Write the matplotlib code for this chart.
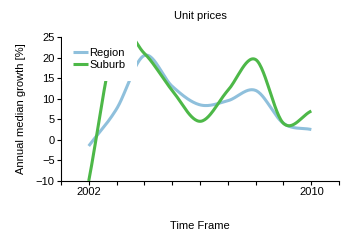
import numpy as np
import matplotlib
matplotlib.use("Agg")
import matplotlib.pyplot as plt

plt.rcParams['font.family'] = ['Liberation Sans', 'DejaVu Sans']

years = [2002, 2003, 2004, 2005, 2006, 2007, 2008, 2009, 2010]
region = [-1.5, 7.5, 20.5, 13.0, 8.5, 9.5, 12.0, 4.0, 2.5]
suburb = [-10.0, 25.0, 21.0, 12.0, 4.5, 12.0, 19.5, 4.0, 7.0]
tick_years = [2002, 2010]


def smooth(xs, ys, n=30, tension=0.5):
    # cardinal spline through the points, like the chart control does
    p = np.column_stack([xs, ys]).astype(float)
    m = np.zeros_like(p)
    m[1:-1] = tension * (p[2:] - p[:-2])
    m[0] = tension * 2 * (p[1] - p[0])
    m[-1] = tension * 2 * (p[-1] - p[-2])
    out = []
    t = np.linspace(0, 1, n)[:, None]
    h00 = 2 * t**3 - 3 * t**2 + 1
    h10 = t**3 - 2 * t**2 + t
    h01 = -2 * t**3 + 3 * t**2
    h11 = t**3 - t**2
    for i in range(len(p) - 1):
        seg = h00 * p[i] + h10 * m[i] + h01 * p[i + 1] + h11 * m[i + 1]
        out.append(seg if i == 0 else seg[1:])
    out = np.vstack(out)
    return out[:, 0], out[:, 1]


fig = plt.figure(figsize=(3.5, 2.4), dpi=100)
ax = fig.add_axes([0.174, 0.246, 0.795, 0.6])

rx, ry = smooth(years, region)
sx, sy = smooth(years, suburb)
ax.plot(rx, ry, color='#8fc0dc', lw=2.2, label='Region', solid_capstyle='butt')
ax.plot(sx, sy, color='#4db848', lw=2.2, label='Suburb', solid_capstyle='butt')

ax.set_xlim(2001, 2011)
ax.set_ylim(-10, 25)
ax.set_xticks(range(2001, 2012))
ax.set_xticklabels([str(y) if y in tick_years else '' for y in range(2001, 2012)])
ax.set_yticks(range(-10, 26, 5))
ax.tick_params(labelsize=8, length=3, width=0.8, pad=1.5)
for s in ['top', 'right']:
    ax.spines[s].set_visible(False)

ax.set_title('Unit prices', fontsize=8, pad=13)
ax.set_xlabel('Time Frame', fontsize=8, labelpad=17)
ax.set_ylabel('Annual median growth [%]', fontsize=8, labelpad=7)

leg = ax.legend(loc='upper left', bbox_to_anchor=(0.003, 1.0), fontsize=8,
                frameon=True, handlelength=1.4, handletextpad=0.1,
                borderpad=1.0, labelspacing=0.15, borderaxespad=0,
                fancybox=False)
leg.get_frame().set_edgecolor('none')
leg.get_frame().set_alpha(1)

fig.savefig('out.png', dpi=100)
